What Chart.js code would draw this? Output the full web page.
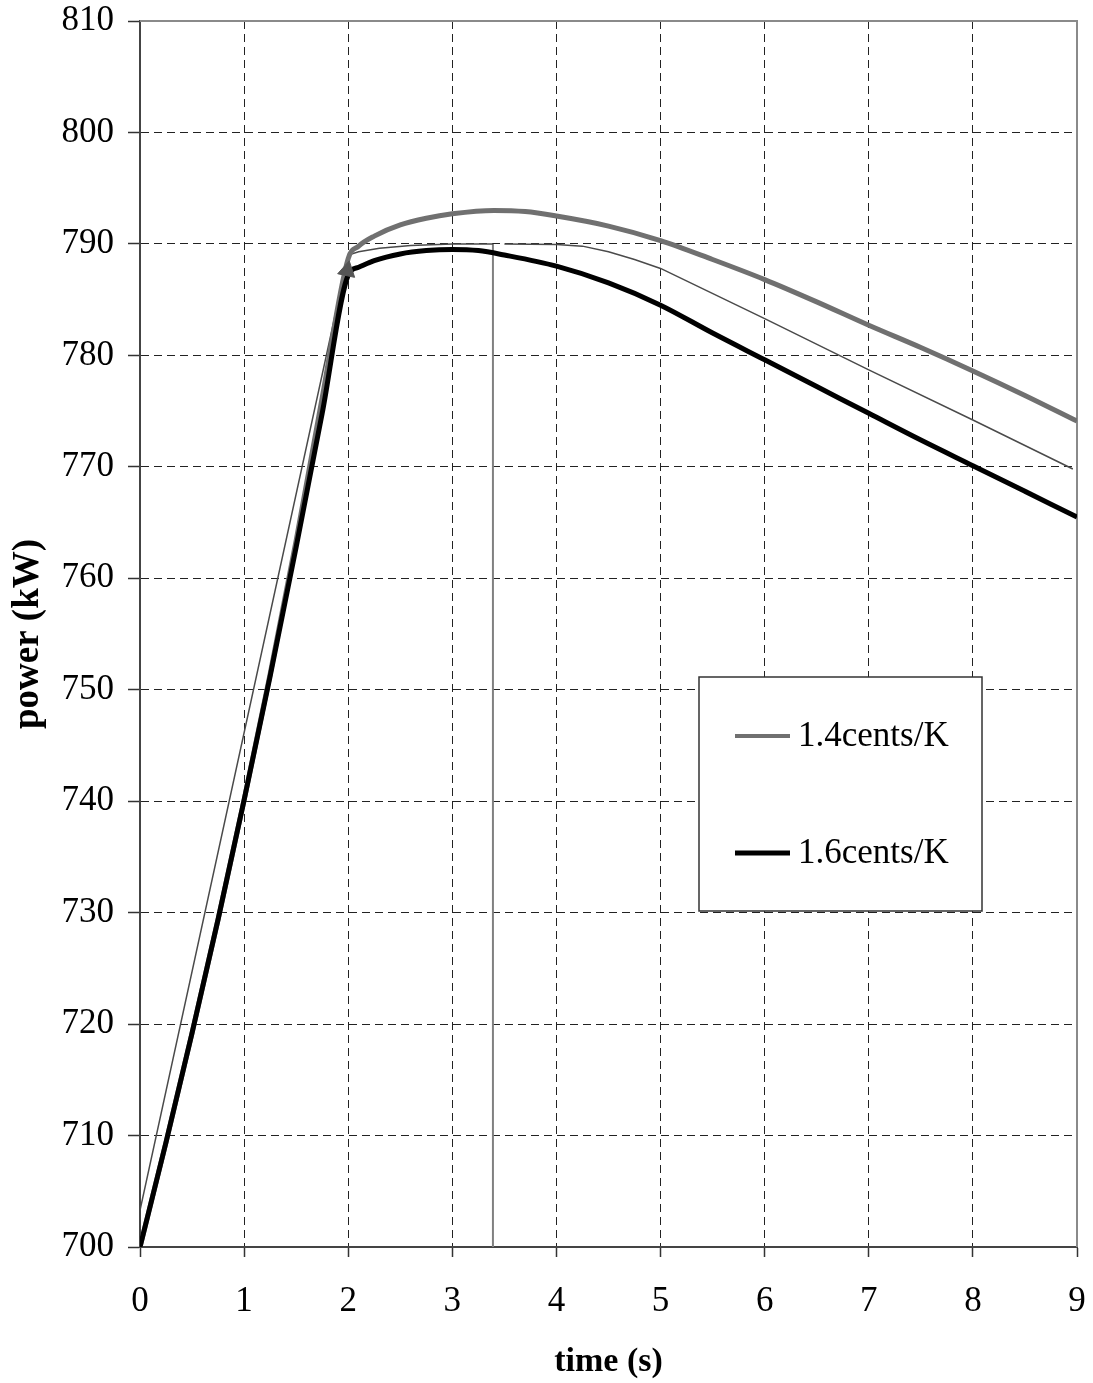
<!DOCTYPE html>
<html>
<head>
<meta charset="utf-8">
<script src="https://cdn.jsdelivr.net/npm/chart.js@4.4.1/dist/chart.umd.min.js"></script>
<style>
  html, body { margin: 0; padding: 0; background: #fff; }
  #wrap { width: 1093px; height: 1383px; position: relative; }
</style>
</head>
<body>
<div id="wrap"><canvas id="chart"></canvas></div>
<script>
/******** DATA ********/
const X_TICKS = [0, 1, 2, 3, 4, 5, 6, 7, 8, 9];
const Y_TICKS = [700, 710, 720, 730, 740, 750, 760, 770, 780, 790, 800, 810];

// 1.4cents/K (thick gray)
const t14 = [0, 0.25, 0.5, 0.75, 1.0, 1.25, 1.5, 1.75, 2.0, 2.1, 2.25, 2.5, 2.75, 3.0, 3.4, 3.7, 4.0, 4.5, 5.0, 5.5, 6.0, 6.5, 7.0, 7.5, 8.0, 8.5, 9.0];
const p14 = [700, 709.4, 719.2, 729.4, 740.1, 751.4, 763.4, 776.2, 788.7, 789.8, 790.7, 791.7, 792.3, 792.7, 793.0, 792.9, 792.5, 791.6, 790.3, 788.6, 786.8, 784.8, 782.7, 780.7, 778.6, 776.4, 774.1];

// 1.6cents/K (thick black)
const t16 = [0, 0.25, 0.5, 0.75, 1.0, 1.25, 1.5, 1.75, 2.0, 2.1, 2.25, 2.5, 2.75, 3.0, 3.25, 3.5, 4.0, 4.5, 5.0, 5.5, 6.0, 6.5, 7.0, 7.5, 8.0, 8.5, 9.0];
const p16 = [700, 709.4, 719.2, 729.4, 740.1, 751.2, 762.8, 774.8, 787.2, 787.9, 788.5, 789.1, 789.4, 789.5, 789.4, 789.0, 788.0, 786.5, 784.5, 782.0, 779.6, 777.2, 774.8, 772.4, 770.1, 767.8, 765.5];

// thin reference line (no legend entry), gap after the drop at 3.39
const tRef = [0, 2.0, 2.1, 2.3, 2.6, 3.0, 3.39, 3.45, 3.5, 4.0, 4.25, 4.5, 4.75, 5.0, 6.0, 7.0, 8.0, 8.96];
const pRef = [703.3, 789.0, 789.3, 789.6, 789.85, 790.0, 790.0, null, 790.0, 789.95, 789.8, 789.3, 788.6, 787.8, 783.3, 778.7, 774.2, 769.8];

// vertical drop line
const tDrop = [3.39, 3.39];
const pDrop = [790.0, 700];

// arrow head marker
const tMark = [1.99];
const pMark = [787.6];

const LEGEND_LABELS = ['1.4cents/K', '1.6cents/K'];
/************************************************/

const SERIF = "'Liberation Serif', 'Times New Roman', serif";

function pts(xs, ys) {
  return xs.map((x, i) => ({ x: x, y: ys[i] }));
}

/********** custom frame + legend **********/
const framePlugin = {
  id: 'frame',
  beforeDatasetsDraw(chart) {
    const { ctx, chartArea: a } = chart;
    ctx.save();
    ctx.strokeStyle = '#8a8a8a';
    ctx.lineWidth = 2;
    ctx.beginPath();
    ctx.moveTo(a.left, a.top);
    ctx.lineTo(a.right, a.top);
    ctx.lineTo(a.right, a.bottom);
    ctx.stroke();
    ctx.restore();
  },
  afterDraw(chart) {
    const { ctx } = chart;
    const box = { x: 699, y: 677, w: 283, h: 234 };
    ctx.save();
    ctx.fillStyle = '#fff';
    ctx.fillRect(box.x, box.y, box.w, box.h);
    ctx.strokeStyle = '#333';
    ctx.lineWidth = 1.5;
    ctx.strokeRect(box.x, box.y, box.w, box.h);

    const rows = [
      { y: 736, color: '#707070', width: 4, text: LEGEND_LABELS[0] },
      { y: 853, color: '#000', width: 5, text: LEGEND_LABELS[1] }
    ];
    ctx.font = '35px ' + SERIF;
    ctx.textBaseline = 'middle';
    ctx.textAlign = 'left';
    rows.forEach(r => {
      ctx.strokeStyle = r.color;
      ctx.lineWidth = r.width;
      ctx.beginPath();
      ctx.moveTo(735, r.y);
      ctx.lineTo(790, r.y);
      ctx.stroke();
      ctx.fillStyle = '#000';
      ctx.fillText(r.text, 798, r.y + 1);
    });
    ctx.restore();
  }
};

const ctx = document.getElementById('chart').getContext('2d');

new Chart(ctx, {
  type: 'line',
  data: {
    datasets: [
      {
        label: 'marker',
        data: pts(tMark, pMark),
        showLine: false,
        pointStyle: 'triangle',
        pointRadius: 10,
        pointRotation: 12,
        pointBackgroundColor: '#555',
        pointBorderColor: '#555',
        pointBorderWidth: 1
      },
      {
        label: LEGEND_LABELS[1],
        data: pts(t16, p16),
        borderColor: '#000',
        borderWidth: 5,
        pointRadius: 0,
        cubicInterpolationMode: 'monotone'
      },
      {
        label: LEGEND_LABELS[0],
        data: pts(t14, p14),
        borderColor: '#707070',
        borderWidth: 5,
        pointRadius: 0,
        cubicInterpolationMode: 'monotone'
      },
      {
        label: 'reference',
        data: pts(tRef, pRef),
        borderColor: '#4a4a4a',
        borderWidth: 1.5,
        pointRadius: 0,
        spanGaps: false,
        tension: 0
      },
      {
        label: 'drop',
        data: pts(tDrop, pDrop),
        borderColor: '#808080',
        borderWidth: 2,
        pointRadius: 0
      }
    ]
  },
  options: {
    responsive: true,
    maintainAspectRatio: false,
    animation: false,
    devicePixelRatio: 1,
    layout: { padding: { top: 21, right: 16, left: 0, bottom: 0 } },
    plugins: { legend: { display: false }, tooltip: { enabled: false } },
    scales: {
      x: {
        type: 'linear',
        min: 0,
        max: 9,
        afterBuildTicks: s => { s.ticks = X_TICKS.map(v => ({ value: v })); },
        afterFit: s => {
          s.height = 136;
          s.paddingLeft = 0;
          s.paddingRight = 0;
        },
        ticks: {
          color: '#000',
          font: { family: SERIF, size: 35 },
          padding: 24,
          maxRotation: 0
        },
        grid: {
          color: '#222',
          lineWidth: 1,
          tickLength: 10,
          tickColor: '#333',
          tickWidth: 1.5
        },
        border: { color: '#444', width: 2, dash: [8, 5] },
        title: {
          display: true,
          text: 'time (s)',
          color: '#000',
          font: { family: SERIF, size: 34, weight: 'bold' },
          padding: { top: 0, bottom: 0 }
        }
      },
      y: {
        min: 700,
        max: 810,
        afterBuildTicks: s => { s.ticks = Y_TICKS.map(v => ({ value: v })); },
        afterFit: s => {
          s.width = 140;
          s.paddingTop = 0;
          s.paddingBottom = 0;
        },
        ticks: {
          color: '#000',
          font: { family: SERIF, size: 35 },
          padding: 14
        },
        grid: {
          color: '#222',
          lineWidth: 1,
          tickLength: 12,
          tickColor: '#333',
          tickWidth: 1.5
        },
        border: { color: '#444', width: 2, dash: [8, 5] },
        title: {
          display: true,
          text: 'power (kW)',
          color: '#000',
          font: { family: SERIF, size: 37, weight: 'bold' },
          padding: { top: 6, bottom: 0 }
        }
      }
    }
  },
  plugins: [framePlugin]
});
</script>
</body>
</html>
